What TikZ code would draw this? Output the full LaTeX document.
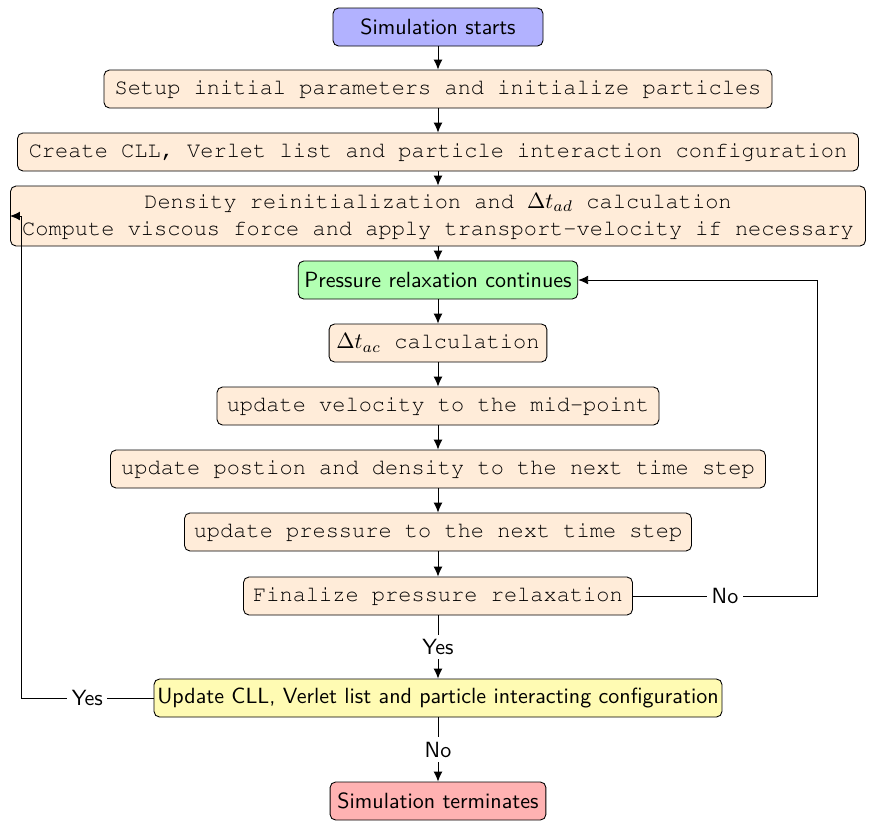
\documentclass[tikz,border=0pt]{standalone}
\usetikzlibrary{arrows.meta}
\newcommand\crtt{\fontencoding{T1}\fontfamily{pcr}\selectfont}
\def\u{0.4545pt}
\tikzset{
  box/.style={draw=black, rounded corners=2.5pt, minimum height=38*\u, inner sep=0.3333em},
  ttbox/.style={box, fill=orange!15, font=\crtt},
  sfbox/.style={box, font=\sffamily},
  lbl/.style={fill=white, font=\sffamily, inner sep=2pt},
  arr/.style={-{Latex[length=4.5pt,width=4pt]}},
}
\begin{document}
\begin{tikzpicture}[x=0.4545pt, y=-0.4545pt]
\useasboundingbox (0,0) rectangle (877,831);
\node[sfbox, fill=blue!30, minimum width=210*\u] (start) at (438,27) {Simulation starts};
\node[ttbox, minimum width=668*\u] (setup) at (438,89) {Setup initial parameters and initialize particles};
\node[ttbox, minimum width=841*\u] (cll) at (438,152) {Create CLL, Verlet list and particle interaction configuration};
\node[ttbox, minimum width=855*\u, minimum height=60*\u, align=center, inner sep=1pt] (dens) at (438,216) {Density reinitialization and $\Delta t_{ad}$ calculation\\Compute viscous force and apply transport-velocity if necessary};
\node[sfbox, fill=green!30, minimum width=278*\u, inner xsep=2.8pt] (prc) at (438,280) {Pressure relaxation continues};
\node[ttbox, minimum width=217*\u] (dtac) at (438,343) {$\Delta t_{ac}$ calculation};
\node[ttbox, minimum width=442*\u] (vel) at (438,406) {update velocity to the mid-point};
\node[ttbox, minimum width=655*\u] (pos) at (438,469) {update postion and density to the next time step};
\node[ttbox, minimum width=507*\u] (pres) at (438,532) {update pressure to the next time step};
\node[ttbox, minimum width=389*\u] (fin) at (438,596) {Finalize pressure relaxation};
\node[sfbox, fill=yellow!30, minimum width=567*\u, inner xsep=1.5pt] (upd) at (438,698) {Update CLL, Verlet list and particle interacting configuration};
\node[sfbox, fill=red!30, minimum width=211*\u] (term) at (438,801) {Simulation terminates};
\coordinate (noturn) at (817,596);
\coordinate (yesturn) at (21,698);

\draw[arr] (start) -- (setup);
\draw[arr] (setup) -- (cll);
\draw[arr] (cll) -- (dens);
\draw[arr] (dens) -- (prc);
\draw[arr] (prc) -- (dtac);
\draw[arr] (dtac) -- (vel);
\draw[arr] (vel) -- (pos);
\draw[arr] (pos) -- (pres);
\draw[arr] (pres) -- (fin);
\draw[arr] (fin) -- node[lbl]{Yes} (upd);
\draw[arr] (upd) -- node[lbl]{No} (term);
\draw[arr] (fin.east) -- node[lbl]{No} (noturn) |- (prc.east);
\draw[arr] (upd.west) -- node[lbl]{Yes} (yesturn) |- (dens.west);
\end{tikzpicture}
\end{document}
